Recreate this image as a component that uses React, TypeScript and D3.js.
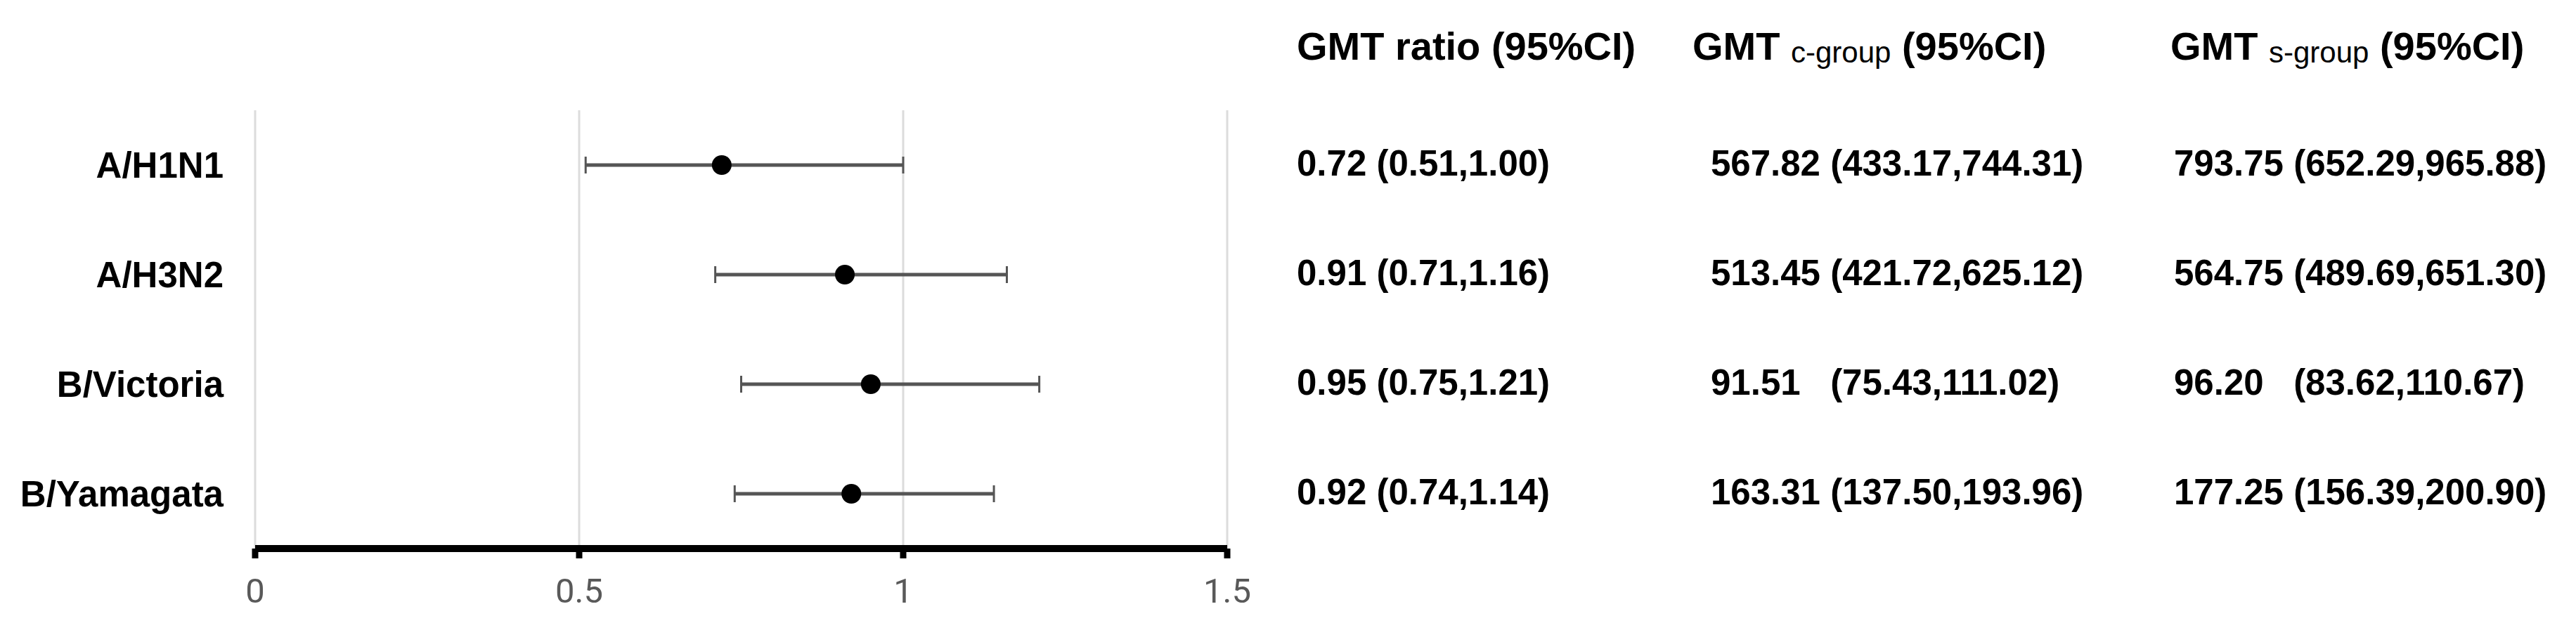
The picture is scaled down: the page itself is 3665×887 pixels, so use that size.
import React from "react";
import * as d3 from "d3";

const categories = ["A/H1N1", "A/H3N2", "B/Victoria", "B/Yamagata"];
const ratioEst = [0.72, 0.91, 0.95, 0.92];
const ratioLo = [0.51, 0.71, 0.75, 0.74];
const ratioHi = [1.0, 1.16, 1.21, 1.14];
const ratioText = ["0.72 (0.51,1.00)", "0.91 (0.71,1.16)", "0.95 (0.75,1.21)", "0.92 (0.74,1.14)"];
const cGroupText = [
  "567.82 (433.17,744.31)",
  "513.45 (421.72,625.12)",
  "91.51   (75.43,111.02)",
  "163.31 (137.50,193.96)",
];
const sGroupText = [
  "793.75 (652.29,965.88)",
  "564.75 (489.69,651.30)",
  "96.20   (83.62,110.67)",
  "177.25 (156.39,200.90)",
];
const xTicks = [0, 0.5, 1, 1.5];
const xTickLabels = ["0", "0.5", "1", "1.5"];

const W = 3665;
const H = 887;
const FONT = "'Liberation Sans', Arial, Helvetica, sans-serif";

export default function App() {
  const x = d3.scaleLinear().domain([0, 1.5]).range([363, 1746]);
  const y = d3.scaleBand<string>().domain(categories).range([157, 781]).paddingInner(0).paddingOuter(0);
  const yc = (c: string) => (y(c) as number) + y.bandwidth() / 2;
  const axisY = 781;

  return (
    <svg
      width={W}
      height={H}
      style={{ position: "absolute", left: 0, top: 0, background: "#fff" }}
      xmlSpace="preserve"
    >
      <rect x={0} y={0} width={W} height={H} fill="#fff" />
      {xTicks.map((t) => (
        <line key={"g" + t} x1={x(t)} x2={x(t)} y1={157} y2={axisY} stroke="#dcdcdc" strokeWidth={3} />
      ))}
      <line x1={x(0)} x2={x(1.5)} y1={axisY} y2={axisY} stroke="#000" strokeWidth={10} />
      {xTicks.map((t, i) => (
        <g key={"t" + t}>
          <line x1={x(t)} x2={x(t)} y1={axisY} y2={axisY + 14} stroke="#000" strokeWidth={9} />
          <text
            x={x(t)}
            y={858}
            textAnchor="middle"
            fontFamily="Roboto, 'Open Sans', sans-serif"
            fontSize={49}
            fill="#595959"
          >
            {xTickLabels[i]}
          </text>
        </g>
      ))}
      {categories.map((c, i) => {
        const cy = yc(c);
        return (
          <g key={c}>
            <text x={318} y={cy + 18} textAnchor="end" fontFamily={FONT} fontWeight="bold" fontSize={51} fill="#000">
              {c}
            </text>
            <line x1={x(ratioLo[i])} x2={x(ratioHi[i])} y1={cy} y2={cy} stroke="#555" strokeWidth={5} />
            <line x1={x(ratioLo[i])} x2={x(ratioLo[i])} y1={cy - 12} y2={cy + 12} stroke="#555" strokeWidth={3} />
            <line x1={x(ratioHi[i])} x2={x(ratioHi[i])} y1={cy - 12} y2={cy + 12} stroke="#555" strokeWidth={3} />
            <circle cx={x(ratioEst[i])} cy={cy} r={14} fill="#000" />
            <text x={1845} y={cy + 15} fontFamily={FONT} fontWeight="bold" fontSize={51} fill="#000" style={{ whiteSpace: "pre" }}>
              {ratioText[i]}
            </text>
            <text x={2434} y={cy + 15} fontFamily={FONT} fontWeight="bold" fontSize={51} fill="#000" style={{ whiteSpace: "pre" }}>
              {cGroupText[i]}
            </text>
            <text x={3093} y={cy + 15} fontFamily={FONT} fontWeight="bold" fontSize={51} fill="#000" style={{ whiteSpace: "pre" }}>
              {sGroupText[i]}
            </text>
          </g>
        );
      })}
      <text x={1845} y={85} fontFamily={FONT} fontWeight="bold" fontSize={56} fill="#000">
        GMT ratio (95%CI)
      </text>
      <text x={2408} y={85} fontFamily={FONT} fontWeight="bold" fontSize={56} fill="#000" style={{ whiteSpace: "pre" }}>
        <tspan>GMT </tspan>
        <tspan fontSize={42} fontWeight="normal" dy={4}>c-group</tspan>
        <tspan dy={-4}> (95%CI)</tspan>
      </text>
      <text x={3088} y={85} fontFamily={FONT} fontWeight="bold" fontSize={56} fill="#000" style={{ whiteSpace: "pre" }}>
        <tspan>GMT </tspan>
        <tspan fontSize={42} fontWeight="normal" dy={4}>s-group</tspan>
        <tspan dy={-4}> (95%CI)</tspan>
      </text>
    </svg>
  );
}
